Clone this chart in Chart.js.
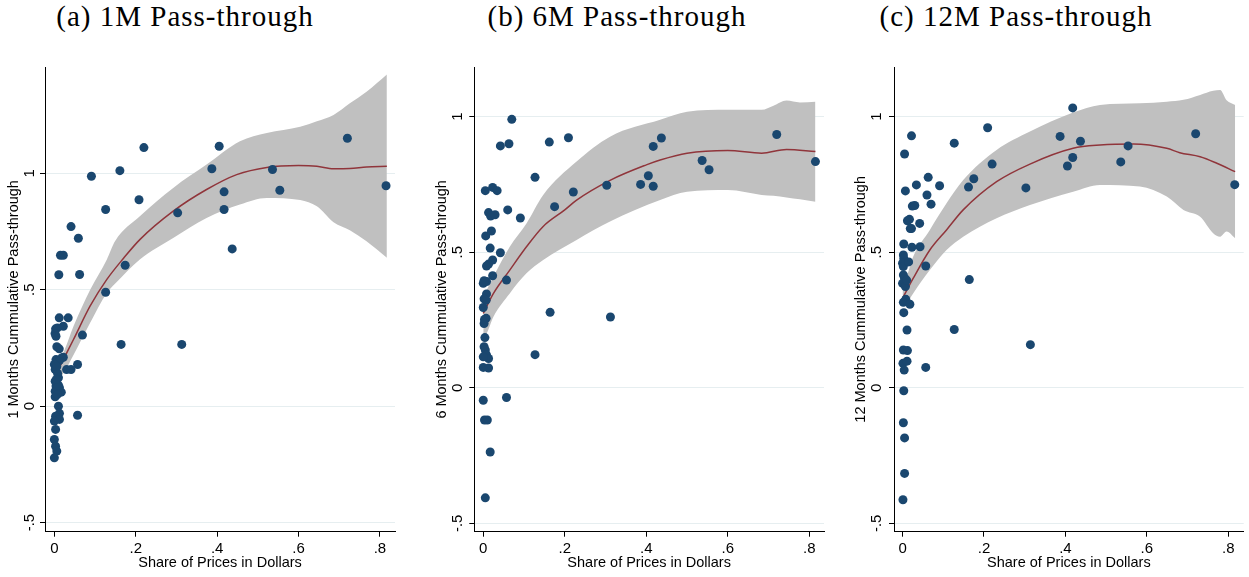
<!DOCTYPE html>
<html>
<head>
<meta charset="utf-8">
<script src="https://cdn.jsdelivr.net/npm/chart.js@4.4.1/dist/chart.umd.min.js"></script>
<style>
  body { margin: 0; background: #fff; width: 1249px; height: 577px; position: relative; overflow: hidden; }
  canvas { position: absolute; top: 0; }
  .ttl { position: absolute; top: 0; font-family: "Liberation Serif", serif; font-size: 29px; line-height: 32px;
         letter-spacing: 1px; white-space: nowrap; transform: translateX(-50%); color: #000; }
</style>
</head>
<body>
<div class="ttl" style="left:185px">(a) 1M Pass-through</div>
<div class="ttl" style="left:617px">(b) 6M Pass-through</div>
<div class="ttl" style="left:1016px">(c) 12M Pass-through</div>
<canvas id="c1" width="416" height="577" style="left:0px"></canvas>
<canvas id="c2" width="416" height="577" style="left:416px"></canvas>
<canvas id="c3" width="417" height="577" style="left:832px"></canvas>
<script>
// panel (a): 1 month
const p1X = [0.72, 0.22, 0.405, 0.161, 0.091, 0.387, 0.536, 0.554, 0.815, 0.417, 0.208, 0.126, 0.417, 0.303,
  0.041, 0.059, 0.437, 0.015, 0.022, 0.174, 0.011, 0.062, 0.126, 0.012, 0.034, 0.022, 0.003, 0.0075, 0.0017,
  0.004, 0.069, 0.164, 0.313, 0.006, 0.012, 0.022, 0.018, 0.004, 0.0125, 0, 0.057, 0.002, 0.03, 0.041, 0.01,
  0.002, 0.004, 0.0125, 0.002, 0.017, 0.002, 0.01, 0.0125, 0.003, 0.0125, 0, 0.057, 0.003, 0, 0.003, 0.006, 0,
  0.008, 0.006, 0.01, 0.007, 0.005];
const p1Y = [1.15, 1.11, 1.116, 1.011, 0.987, 1.019, 1.016, 0.927, 0.946, 0.92, 0.886, 0.844, 0.844, 0.83,
  0.771, 0.721, 0.675, 0.648, 0.648, 0.605, 0.564, 0.565, 0.489, 0.379, 0.379, 0.343, 0.332, 0.336, 0.312,
  0.3, 0.305, 0.265, 0.265, 0.255, 0.246, 0.21, 0.207, 0.2, 0.196, 0.179, 0.179, 0.157, 0.157, 0.157, 0.122,
  0.107, 0.086, 0.079, 0.064, 0.06, 0.04, 0, -0.031, -0.043, -0.057, -0.064, -0.039, -0.1, -0.143, -0.172, -0.193, -0.222,
  0.14, 0.17, 0.09, 0.05, 0.115];
const p1FitX = [0, 0.022, 0.047, 0.088, 0.129, 0.17, 0.21, 0.292, 0.374, 0.448, 0.522, 0.6, 0.645, 0.686, 0.726, 0.767, 0.817];
const p1FitY = [0.122, 0.2, 0.286, 0.43, 0.544, 0.635, 0.715, 0.837, 0.93, 0.994, 1.025, 1.033, 1.03, 1.019, 1.02, 1.027, 1.03];
const p1BandX = [0, 0.022, 0.047, 0.088, 0.129, 0.149, 0.21, 0.292, 0.374, 0.456, 0.522, 0.604, 0.645, 0.686, 0.726, 0.767, 0.817];
const p1Upper = [0.17, 0.229, 0.343, 0.5, 0.63, 0.708, 0.815, 0.937, 1.037, 1.137, 1.173, 1.2, 1.223, 1.25, 1.3, 1.35, 1.424];
const p1Lower = [0.09, 0.14, 0.22, 0.358, 0.486, 0.525, 0.63, 0.722, 0.808, 0.866, 0.894, 0.885, 0.858, 0.79, 0.755, 0.708, 0.637];

// panel (b): 6 months
const p2X = [0.07, 0.042, 0.063, 0.162, 0.209, 0.437, 0.417, 0.72, 0.537, 0.554, 0.815, 0.127, 0.405, 0.386,
  0.417, 0.303, 0.221, 0.005, 0.023, 0.034, 0.175, 0.06, 0.091, 0.013, 0.018, 0.029, 0.006, 0.02, 0.017, 0.042,
  0.023, 0.013, 0.008, 0.023, 0.057, 0, 0.008, 0.002, 0.008, 0.002, 0.007, 0, 0.164, 0.312, 0.007, 0.003, 0.002,
  0.004, 0.002, 0.005, 0.008, 0.013, 0, 0.127, 0, 0.013, 0, 0.057, 0.003, 0.01, 0.017, 0.005];
const p2Y = [0.99, 0.892, 0.9, 0.906, 0.922, 0.921, 0.89, 0.934, 0.838, 0.804, 0.834, 0.776, 0.782, 0.75,
  0.743, 0.747, 0.722, 0.727, 0.739, 0.727, 0.668, 0.656, 0.626, 0.646, 0.633, 0.638, 0.56, 0.578, 0.515, 0.498,
  0.471, 0.456, 0.449, 0.413, 0.397, 0.385, 0.392, 0.395, 0.346, 0.328, 0.323, 0.296, 0.278, 0.261, 0.256, 0.252, 0.237,
  0.185, 0.151, 0.139, 0.121, 0.108, 0.114, 0.122, 0.075, 0.073, -0.046, -0.036, -0.119, -0.119, -0.237, -0.406];
const p2FitX = [0, 0.025, 0.065, 0.106, 0.147, 0.2, 0.229, 0.311, 0.4, 0.434, 0.5, 0.6, 0.683, 0.744, 0.815];
const p2FitY = [0.274, 0.348, 0.434, 0.52, 0.595, 0.656, 0.692, 0.765, 0.822, 0.84, 0.865, 0.875, 0.865, 0.879, 0.871];
const p2BandX = [0, 0.008, 0.025, 0.065, 0.106, 0.147, 0.229, 0.311, 0.434, 0.5, 0.6, 0.683, 0.712, 0.744, 0.777, 0.815];
const p2Upper = [0.348, 0.36, 0.41, 0.52, 0.606, 0.711, 0.834, 0.926, 0.988, 1.018, 1.025, 1.025, 1.04, 1.059, 1.052, 1.055];
const p2Lower = [0.19, 0.2, 0.262, 0.348, 0.422, 0.471, 0.545, 0.613, 0.692, 0.723, 0.729, 0.711, 0.708, 0.702, 0.695, 0.686];

// panel (c): 12 months
const p3X = [0.418, 0.209, 0.022, 0.387, 0.72, 0.127, 0.437, 0.005, 0.554, 0.418, 0.22, 0.405, 0.536, 0.063,
  0.175, 0.034, 0.091, 0.162, 0.303, 0.816, 0.007, 0.06, 0.07, 0.024, 0.03, 0.012, 0.017, 0.019, 0.022, 0.042,
  0.003, 0.023, 0.043, 0.002, 0.003, 0, 0.002, 0.015, 0.057, 0.002, 0.005, 0, 0.007, 0.01, 0.164, 0.008, 0.002,
  0.018, 0.003, 0.011, 0.127, 0.314, 0.002, 0.012, 0.001, 0.011, 0.004, 0.057, 0.003, 0.002, 0.005, 0.005, 0.001];
const p3Y = [1.032, 0.959, 0.929, 0.927, 0.937, 0.902, 0.909, 0.862, 0.892, 0.849, 0.825, 0.818, 0.833, 0.776,
  0.771, 0.748, 0.745, 0.74, 0.737, 0.749, 0.726, 0.711, 0.677, 0.67, 0.672, 0.616, 0.621, 0.587, 0.587, 0.606,
  0.53, 0.518, 0.52, 0.49, 0.477, 0.459, 0.447, 0.464, 0.449, 0.416, 0.403, 0.385, 0.373, 0.397, 0.399, 0.326, 0.315,
  0.308, 0.277, 0.213, 0.215, 0.159, 0.139, 0.137, 0.09, 0.098, 0.065, 0.075, -0.011, -0.129, -0.185, -0.316, -0.413];
const p3FitX = [0, 0.026, 0.067, 0.108, 0.149, 0.231, 0.313, 0.419, 0.485, 0.567, 0.649, 0.681, 0.731, 0.772, 0.817];
const p3FitY = [0.33, 0.403, 0.508, 0.582, 0.656, 0.76, 0.825, 0.883, 0.895, 0.899, 0.883, 0.867, 0.852, 0.828, 0.797];
const p3BandX = [0, 0.01, 0.026, 0.067, 0.108, 0.149, 0.231, 0.313, 0.419, 0.485, 0.583, 0.649, 0.69, 0.731, 0.763, 0.78, 0.796, 0.817];
const p3Upper = [0.391, 0.41, 0.483, 0.582, 0.68, 0.766, 0.877, 0.945, 1.015, 1.043, 1.049, 1.055, 1.062, 1.08, 1.095, 1.098, 1.06, 1.043];
const p3Lower = [0.3, 0.311, 0.348, 0.434, 0.508, 0.557, 0.625, 0.674, 0.723, 0.748, 0.742, 0.705, 0.656, 0.631, 0.57, 0.557, 0.576, 0.551];

const xTitle = 'Share of Prices in Dollars';
const navy = '#1a476f';
const maroon = '#90353b';
const band = '#c0c0c0';
const gridCol = '#e6eef0';
const sans = 'Liberation Sans, Arial, sans-serif';

function toPts(xs, ys) {
  return xs.map((x, i) => ({ x: x, y: ys[i] }));
}

// stata style labels: .5, -.5, 0, 1
function fmt(v) {
  const r = Math.round(v * 10) / 10;
  if (r === 0) return '0';
  return String(r).replace('0.', '.');
}

function makePanel(id, p) {
  new Chart(document.getElementById(id), {
    type: 'scatter',
    data: {
      datasets: [
        { data: toPts(p.x, p.y), pointRadius: 4.5, pointHoverRadius: 4.5, backgroundColor: navy, borderWidth: 0 },
        { type: 'line', data: toPts(p.fitX, p.fitY), borderColor: maroon, borderWidth: 1.5, pointRadius: 0,
          fill: false, cubicInterpolationMode: 'monotone' },
        { type: 'line', data: toPts(p.bandX, p.upper), borderColor: 'rgba(0,0,0,0)', borderWidth: 0, pointRadius: 0,
          backgroundColor: band, fill: '+1', cubicInterpolationMode: 'monotone' },
        { type: 'line', data: toPts(p.bandX, p.lower), borderColor: 'rgba(0,0,0,0)', borderWidth: 0, pointRadius: 0,
          fill: false, cubicInterpolationMode: 'monotone' }
      ]
    },
    options: {
      responsive: false,
      animation: false,
      layout: { padding: { top: 67, right: p.padRight, left: 0, bottom: 0 } },
      plugins: { legend: { display: false }, tooltip: { enabled: false } },
      scales: {
        x: {
          type: 'linear', min: p.xMin, max: p.xMax,
          afterFit: s => { s.height = 45.3; },
          ticks: { stepSize: 0.2, includeBounds: false, maxRotation: 0, padding: 3, color: '#000',
                   font: { family: sans, size: 15 }, callback: fmt },
          grid: { drawOnChartArea: false, tickLength: 5, tickColor: '#000' },
          border: { color: '#000', width: 1 },
          title: { display: true, text: xTitle, color: '#000', font: { family: sans, size: 14.5 },
                   padding: { top: 0, bottom: 5 } }
        },
        y: {
          min: p.yMin, max: p.yMax,
          afterFit: s => { s.width = p.yWidth; },
          ticks: { stepSize: 0.5, includeBounds: false, minRotation: 90, maxRotation: 90, crossAlign: 'center',
                   padding: p.yTickPad, color: '#000', font: { family: sans, size: 15 }, callback: fmt },
          grid: { color: gridCol, lineWidth: 1, tickLength: 5, tickColor: '#000' },
          border: { color: '#000', width: 1 },
          title: { display: true, text: p.yTitle, color: '#000', font: { family: sans, size: 14.5 },
                   padding: { top: p.yTitlePad, bottom: 0 } }
        }
      }
    }
  });
}

makePanel('c1', { x: p1X, y: p1Y, fitX: p1FitX, fitY: p1FitY, bandX: p1BandX, upper: p1Upper, lower: p1Lower,
  yTitle: '1 Months Cummulative Pass-through', xMin: -0.023, xMax: 0.837, yMin: -0.539, yMax: 1.456,
  yWidth: 45, padRight: 21, yTickPad: 1.8, yTitlePad: 5 });
makePanel('c2', { x: p2X, y: p2Y, fitX: p2FitX, fitY: p2FitY, bandX: p2BandX, upper: p2Upper, lower: p2Lower,
  yTitle: '6 Months Cummulative Pass-through', xMin: -0.022, xMax: 0.836, yMin: -0.531, yMax: 1.183,
  yWidth: 58.3, padRight: 8, yTickPad: 2.8, yTitlePad: 17 });
makePanel('c3', { x: p3X, y: p3Y, fitX: p3FitX, fitY: p3FitY, bandX: p3BandX, upper: p3Upper, lower: p3Lower,
  yTitle: '12 Months Cummulative Pass-through', xMin: -0.021, xMax: 0.838, yMin: -0.531, yMax: 1.183,
  yWidth: 62, padRight: 5.3, yTickPad: 3.5, yTitlePad: 20 });
</script>
</body>
</html>
